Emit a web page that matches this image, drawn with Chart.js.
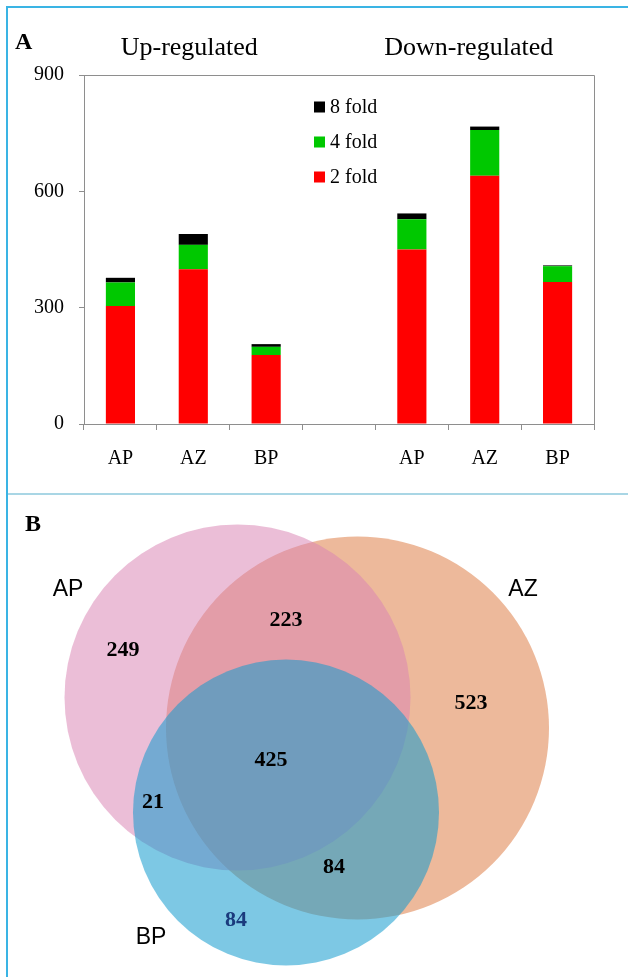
<!DOCTYPE html>
<html>
<head>
<meta charset="utf-8">
<script src="https://cdn.jsdelivr.net/npm/chart.js@4/dist/chart.umd.min.js"></script>
<style>
  html, body { margin: 0; padding: 0; background: #ffffff; }
  #page { position: relative; width: 628px; height: 977px; overflow: hidden; background: #ffffff; }
  canvas { position: absolute; left: 0; }
  #barCanvas { top: 0; }
  #vennCanvas { top: 494px; }
  .rule { position: absolute; }
  .panel-tag { position: absolute; font-family: "Liberation Serif", serif; font-weight: bold; font-size: 24px; color: #000; line-height: 1; }
</style>
</head>
<body>
<div id="page">
  <canvas id="barCanvas" width="628" height="491"></canvas>
  <canvas id="vennCanvas" width="628" height="483"></canvas>
  <div class="rule" style="left:6px; top:6px; width:622px; height:2px; background:#3ab4e4;"></div>
  <div class="rule" style="left:6px; top:6px; width:2px; height:971px; background:#3ab4e4;"></div>
  <div class="rule" style="left:8px; top:493px; width:620px; height:2px; background:#a9d6e5;"></div>
  <div class="panel-tag" style="left:15px; top:29px;">A</div>
  <div class="panel-tag" style="left:25px; top:511px;">B</div>
</div>
<script>
// ---- Panel A: differentially expressed genes by fold change ----
const categories = ['AP', 'AZ', 'BP', '', 'AP', 'AZ', 'BP'];
const groupTitles = ['Up-regulated', 'Down-regulated'];
const foldLabels = ['2 fold', '4 fold', '8 fold'];
const twoFold   = [304, 399, 178, null, 450, 640, 366];
const fourFold  = [61, 63, 21, null, 78, 118, 41];
const eightFold = [12, 28, 7, null, 15, 9, 2];
const yTicks = [0, 300, 600, 900];

// ---- Panel B: overlap of the three gene sets ----
const vennSets = ['AP', 'AZ', 'BP'];
const vennRegions = ['AP', 'AZ', 'BP', 'AP∩AZ', 'AP∩BP', 'AZ∩BP', 'AP∩AZ∩BP'];
const vennCounts = [249, 523, 84, 223, 21, 84, 425];

const SERIF = '"Liberation Serif", "Times New Roman", serif';
const SANS = '"Liberation Sans", Arial, sans-serif';
const AXIS_GREY = '#8e8e8e';

const foldColors = ['#ff0000', '#00c800', '#000000'];
const foldSeries = [twoFold, fourFold, eightFold];

// frame around the plot area, group titles and the inset legend
const barDecor = {
  id: 'barDecor',
  afterDraw(chart) {
    const { ctx, chartArea: a, scales } = chart;
    ctx.save();
    ctx.strokeStyle = AXIS_GREY;
    ctx.lineWidth = 1;
    ctx.beginPath();
    ctx.moveTo(a.left, a.top + 0.5);
    ctx.lineTo(a.right + 0.5, a.top + 0.5);
    ctx.lineTo(a.right + 0.5, a.bottom);
    ctx.stroke();

    // group titles above the two clusters of bars
    ctx.fillStyle = '#000';
    ctx.font = '26px ' + SERIF;
    ctx.textAlign = 'center';
    ctx.textBaseline = 'middle';
    const x = scales.x;
    ctx.fillText(groupTitles[0], x.getPixelForValue(1) - 4, 48);
    ctx.fillText(groupTitles[1], x.getPixelForValue(5) - 16, 48);

    // legend, highest fold first
    ctx.font = '20px ' + SERIF;
    ctx.textAlign = 'left';
    const ds = chart.data.datasets.slice().reverse();
    const lx = a.left + 230, ly = a.top + 32, step = 35;
    ds.forEach((d, i) => {
      const cy = ly + i * step;
      ctx.fillStyle = d.backgroundColor;
      ctx.fillRect(lx, cy - 5.5, 11, 11);
      ctx.fillStyle = '#000';
      ctx.fillText(d.label, lx + 16, cy + 1);
    });
    ctx.restore();
  }
};

new Chart(document.getElementById('barCanvas'), {
  type: 'bar',
  data: {
    labels: categories,
    datasets: foldLabels.map((lab, i) => ({
      label: lab,
      data: foldSeries[i],
      backgroundColor: foldColors[i],
      borderWidth: 0,
      barPercentage: 0.4,
      categoryPercentage: 1.0
    }))
  },
  options: {
    responsive: false,
    animation: false,
    events: [],
    layout: { padding: { top: 75, right: 34, left: 0, bottom: 0 } },
    plugins: { legend: { display: false }, tooltip: { enabled: false }, title: { display: false } },
    scales: {
      x: {
        stacked: true,
        grid: { drawOnChartArea: false, drawTicks: true, tickLength: 6, color: AXIS_GREY, offset: true },
        border: { color: AXIS_GREY, width: 1 },
        ticks: { color: '#000', font: { family: SERIF, size: 20 }, padding: 17, maxRotation: 0 },
        afterFit(s) { s.height = 67; }
      },
      y: {
        stacked: true,
        min: 0,
        max: 900,
        afterBuildTicks(s) { s.ticks = yTicks.map(v => ({ value: v })); },
        grid: { drawOnChartArea: false, drawTicks: true, tickLength: 5, color: AXIS_GREY },
        border: { color: AXIS_GREY, width: 1 },
        ticks: { color: '#000', font: { family: SERIF, size: 20 }, padding: 15 },
        afterFit(s) { s.width = 84; }
      }
    }
  },
  plugins: [barDecor]
});

// ---- Venn layout (abstract units, y grows downward) ----
const vennGeometry = {
  AP: { x: 4.75, y: 4.07, r: 3.46 },
  AZ: { x: 7.15, y: 4.68, r: 3.83 },
  BP: { x: 5.72, y: 6.37, r: 3.06 }
};
const vennFills = {
  AP: 'rgba(217, 132, 180, 0.53)',
  AZ: 'rgb(237, 185, 155)',
  BP: 'rgba(19, 155, 206, 0.55)'
};
const vennStack = { AZ: 3, AP: 2, BP: 1 };
const setLabelPos = { AP: [1.36, 1.92], AZ: [10.46, 1.92], BP: [3.02, 8.88] };
const regionLabelPos = {
  'AP': [2.46, 3.12], 'AZ': [9.42, 4.18], 'BP': [4.72, 8.52],
  'AP∩AZ': [5.72, 2.52], 'AP∩BP': [3.06, 6.16], 'AZ∩BP': [6.68, 7.46], 'AP∩AZ∩BP': [5.42, 5.32]
};
const regionTextColor = { 'BP': '#1b3b7d' };

const vennText = {
  id: 'vennText',
  afterDatasetsDraw(chart) {
    const { ctx, scales: { x, y } } = chart;
    ctx.save();
    ctx.textAlign = 'center';
    ctx.textBaseline = 'middle';
    ctx.font = '23px ' + SANS;
    ctx.fillStyle = '#000';
    vennSets.forEach(s => {
      const p = setLabelPos[s];
      ctx.fillText(s, x.getPixelForValue(p[0]), y.getPixelForValue(p[1]));
    });
    ctx.font = 'bold 22px ' + SERIF;
    vennRegions.forEach((reg, i) => {
      const p = regionLabelPos[reg];
      ctx.fillStyle = regionTextColor[reg] || '#000';
      ctx.fillText(String(vennCounts[i]), x.getPixelForValue(p[0]), y.getPixelForValue(p[1]));
    });
    ctx.restore();
  }
};

const venn = new Chart(document.getElementById('vennCanvas'), {
  type: 'bubble',
  data: {
    datasets: vennSets.map(s => ({
      label: s,
      data: [{ x: vennGeometry[s].x, y: vennGeometry[s].y, r: 1 }],
      backgroundColor: vennFills[s],
      borderWidth: 0,
      order: vennStack[s],
      clip: false
    }))
  },
  options: {
    responsive: false,
    animation: false,
    events: [],
    layout: { padding: 0, autoPadding: false },
    plugins: { legend: { display: false }, tooltip: { enabled: false } },
    scales: {
      x: { type: 'linear', min: 0, max: 12.56, display: false },
      y: { type: 'linear', min: 0, max: 9.66, reverse: true, display: false }
    }
  },
  plugins: [vennText]
});

// circle radii are layout units, converted to pixels through the x scale
const xs = venn.scales.x;
venn.data.datasets.forEach((ds, i) => {
  const g = vennGeometry[vennSets[i]];
  ds.data[0].r = xs.getPixelForValue(g.r) - xs.getPixelForValue(0);
});
venn.update('none');
</script>
</body>
</html>
